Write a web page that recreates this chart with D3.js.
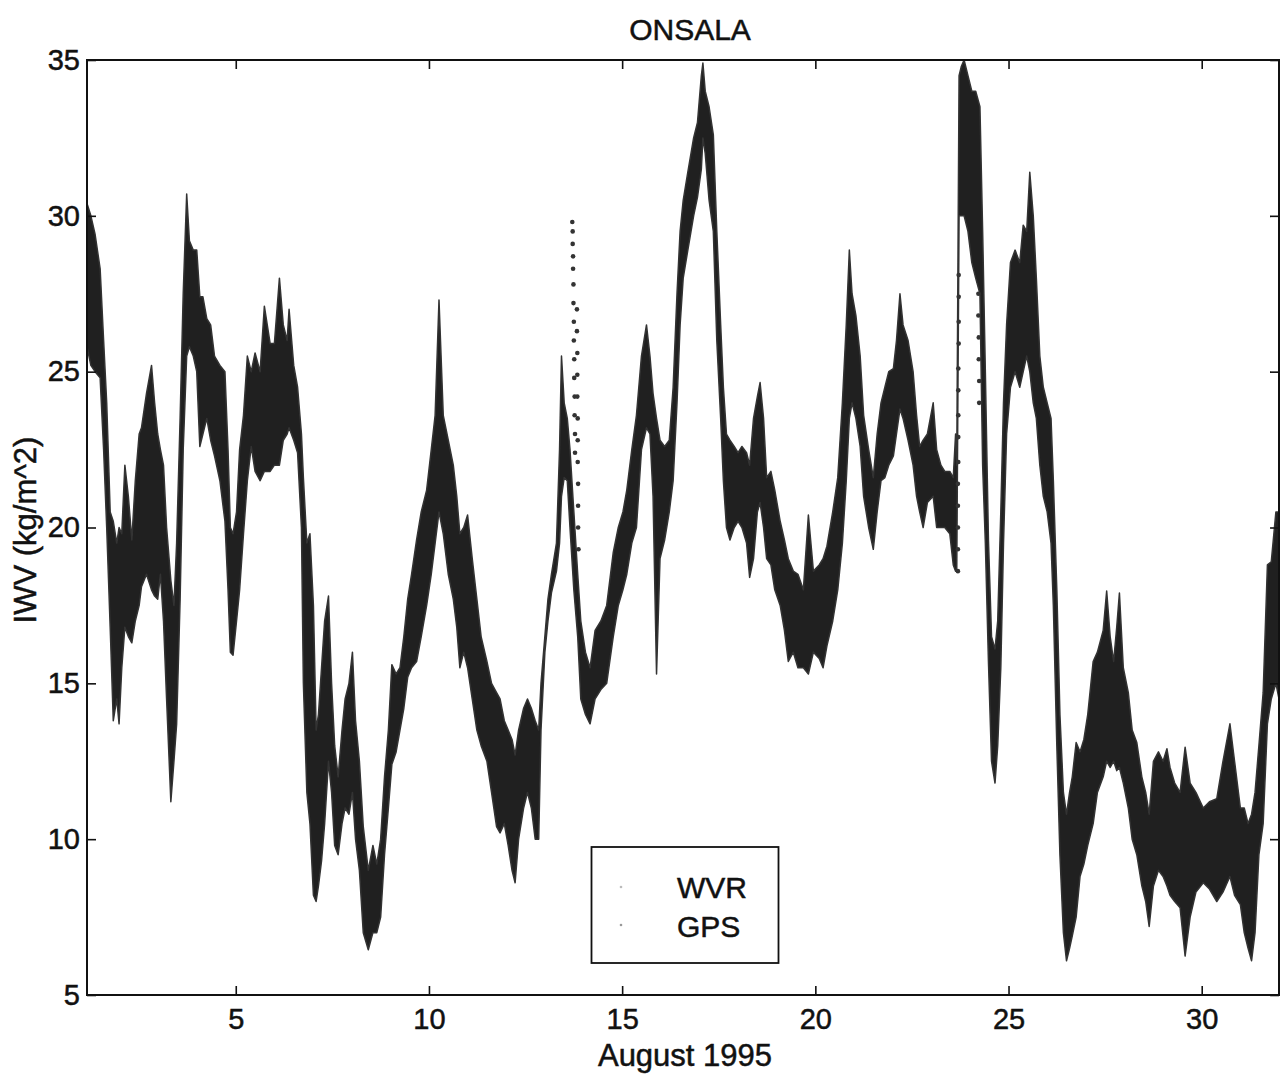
<!DOCTYPE html>
<html>
<head>
<meta charset="utf-8">
<script src="https://cdn.jsdelivr.net/npm/d3@7"></script>
<style>
body { margin: 0; background: #fff; }
text { font-family: "Liberation Sans", Arial, Helvetica, sans-serif; fill: #111; stroke: #111; stroke-width: 0.5px; }
</style>
</head>
<body>
<div id="chart"></div>
<script>
// time in days of August 1995, band = overlapping WVR/GPS samples (upper / lower edge)
var bandT = [1.15,1.25,1.36,1.49,1.58,1.66,1.75,1.83,1.92,1.98,2.05,2.13,2.22,2.31,2.40,2.50,2.56,2.69,2.82,2.90,2.98,3.05,3.13,3.21,3.32,3.40,3.47,3.56,3.64,3.73,3.80,3.90,3.99,4.07,4.15,4.25,4.35,4.45,4.59,4.72,4.80,4.86,4.93,5.02,5.10,5.20,5.30,5.40,5.50,5.63,5.74,5.89,6.00,6.13,6.23,6.33,6.38,6.50,6.60,
  6.70,6.75,6.84,6.92,7.01,7.08,7.14,7.22,7.30,7.40,7.48,7.56,7.65,7.75,7.83,7.93,8.02,8.10,8.20,8.30,8.43,8.55,8.65,8.75,8.85,8.95,9.04,9.15,9.25,9.35,9.45,9.55,9.68,9.80,9.94,10.06,10.16,10.26,10.37,10.50,10.63,10.72,10.80,10.90,11.00,11.12,11.24,11.35,11.50,11.62,11.75,
  11.84,11.95,12.05,12.15,12.23,12.32,12.45,12.55,12.65,12.75,12.84,12.90,13.00,13.08,13.17,13.30,13.38,13.43,13.50,13.58,13.65,13.75,13.85,13.93,14.05,14.17,14.30,14.45,14.60,14.77,14.90,15.02,15.12,15.25,15.37,15.50,15.63,15.72,15.80,15.89,15.98,16.10,16.22,16.32,16.42,16.50,
  16.58,16.70,16.85,16.95,17.05,17.09,17.15,17.25,17.36,17.45,17.55,17.62,17.70,17.79,17.90,18.00,18.10,18.22,18.30,18.40,18.50,18.57,18.66,18.74,18.85,18.95,19.09,19.20,19.30,19.43,19.55,19.69,19.82,19.95,20.10,20.20,20.30,20.45,20.58,20.70,20.80,20.88,20.95,21.05,21.16,21.25,21.38,21.50,21.60,21.70,
  21.80,21.90,22.02,22.10,22.19,22.27,22.40,22.53,22.62,22.70,22.79,22.90,23.05,23.14,23.25,23.35,23.48,23.57,23.63,23.66,23.72,23.78,23.85,23.95,24.05,24.15,24.26,24.33,24.40,24.48,24.56,24.65,24.72,24.80,24.87,24.95,25.05,25.17,25.29,25.38,25.47,25.55,25.64,25.72,25.81,25.90,26.00,26.10,26.16,26.25,26.33,26.42,26.50,26.58,
  26.65,26.75,26.85,26.95,27.05,27.19,27.30,27.45,27.54,27.63,27.72,27.80,27.87,27.97,28.10,28.20,28.32,28.45,28.55,28.64,28.75,28.88,29.00,29.10,29.18,29.30,29.44,29.57,29.70,29.85,30.04,30.20,30.39,30.55,30.73,30.85,31.00,31.10,31.20,31.29,31.38,31.48,31.59,31.70,31.80,31.92,32.00];
var bandHi = [30.4,30.0,29.4,28.3,26.0,24.0,20.5,20.2,19.5,20.0,19.8,22.0,21.0,19.6,21.5,23.0,23.2,24.3,25.2,24.0,23.0,22.5,22.0,20.0,18.3,17.5,19.5,23.5,27.5,30.7,29.2,28.9,28.9,27.4,27.4,26.7,26.5,25.5,25.2,25.0,22.5,20.0,19.8,20.5,22.5,23.6,25.5,25.0,25.6,25.0,27.1,25.9,25.9,28.0,26.5,26.0,27.0,25.2,24.5,
  23.0,21.6,19.5,19.8,17.5,13.5,14.0,15.5,17.0,17.8,15.0,13.0,12.0,13.5,14.5,15.0,16.0,13.8,12.5,10.4,9.0,9.8,9.2,10.0,12.0,13.5,15.6,15.3,15.5,16.5,17.7,18.5,19.6,20.5,21.2,22.5,23.6,27.3,23.6,22.8,22.0,21.0,19.8,20.0,20.4,19.0,17.7,16.5,15.7,15.0,14.7,
  14.5,13.8,13.5,13.2,12.7,13.5,14.2,14.5,14.2,13.8,13.5,15.0,16.5,17.7,18.5,19.5,22.5,25.5,24.0,23.5,22.5,20.5,18.5,17.0,16.0,15.5,16.7,17.0,17.5,19.2,20.0,20.5,21.2,22.5,23.6,25.5,26.5,25.5,24.3,23.5,22.8,22.6,22.8,24.5,27.5,29.5,
  30.5,31.4,32.5,33.0,34.5,34.9,34.0,33.5,32.6,29.5,26.5,24.5,23.0,22.8,22.6,22.4,22.6,22.4,22.0,23.5,24.2,24.65,23.5,21.6,21.8,21.2,20.2,19.6,19.0,18.6,18.5,18.0,20.4,18.6,18.8,19.0,19.4,20.5,21.6,24.0,26.5,28.9,27.5,26.8,25.5,23.6,22.5,21.6,23.0,24.0,
  24.5,25.0,25.1,26.0,27.5,26.5,26.0,25.0,23.6,22.6,22.8,23.0,24.0,22.5,22.0,21.8,21.8,21.6,23.0,22.0,34.5,34.8,35.0,34.5,34.0,34.0,33.5,29.5,25.0,19.6,16.5,16.1,17.0,20.5,24.0,26.5,28.5,28.9,28.5,29.7,29.5,31.4,30.0,28.0,25.5,24.5,24.0,23.5,21.5,18.0,14.0,11.5,10.8,11.5,
  12.0,13.1,12.8,13.2,14.0,15.7,16.0,16.7,17.96,16.5,15.7,16.8,17.9,15.5,14.7,13.5,13.1,12.0,11.5,10.8,12.5,12.8,12.5,12.9,12.3,11.8,11.5,12.95,11.8,11.5,11.0,11.2,11.3,12.5,13.7,12.5,11.0,11.0,10.5,10.8,11.5,13.0,14.7,18.8,18.9,20.5,20.5];
var bandLo = [25.8,25.2,25.0,24.8,22.5,20.0,16.8,13.8,14.5,13.7,15.5,16.8,16.5,16.3,17.0,17.5,18.1,18.5,18.0,17.8,17.7,18.5,17.0,14.5,11.2,12.5,13.7,17.7,22.5,25.5,25.8,25.5,25.0,22.6,23.0,23.5,22.8,22.3,21.5,20.2,18.0,16.0,15.9,17.0,18.0,19.8,21.5,22.6,21.8,21.5,21.8,21.8,22.0,22.0,22.8,23.0,23.2,22.8,22.4,
  20.0,15.0,11.5,10.5,8.2,8.0,8.5,9.3,10.5,12.5,11.5,9.8,9.5,10.5,11.0,10.8,11.5,10.0,9.0,7.0,6.45,7.0,7.0,7.5,9.5,11.0,12.4,12.8,13.5,14.2,15.2,15.5,15.7,16.5,17.5,18.5,19.5,20.5,19.8,18.5,17.7,16.8,15.5,16.0,15.5,14.5,13.5,13.0,12.5,11.5,10.4,
  10.2,10.5,9.8,9.0,8.6,10.0,11.0,11.5,11.0,10.0,10.0,13.5,16.0,17.0,17.9,18.6,19.5,21.0,21.6,21.5,20.0,18.0,16.5,14.5,14.0,13.7,14.5,14.8,15.0,16.5,17.5,18.0,18.5,19.5,20.0,22.5,23.2,23.0,21.0,15.3,19.0,19.6,20.5,21.5,24.0,26.5,
  28.0,28.9,30.0,30.6,31.5,32.5,32.0,30.5,29.5,26.0,23.5,21.5,20.0,19.6,20.0,20.2,20.0,19.5,18.4,19.0,20.5,20.8,20.0,19.0,18.8,18.0,17.5,16.7,15.7,16.0,15.5,15.5,15.3,16.0,15.8,15.5,16.2,17.0,18.0,19.5,21.5,23.5,24.0,23.5,22.6,21.0,20.0,19.3,20.5,21.5,
  21.6,22.0,22.3,23.0,23.8,23.5,22.8,22.0,21.0,20.5,20.0,20.8,21.0,20.0,20.0,20.0,19.8,18.8,18.6,18.6,30.0,30.0,30.0,29.5,28.5,28.0,27.5,22.0,19.5,15.7,12.5,11.8,13.0,15.5,19.5,23.0,24.5,25.0,24.5,25.0,25.5,25.0,24.0,23.5,22.0,21.0,20.5,19.5,17.5,13.0,9.5,7.0,6.1,6.5,
  6.9,7.5,8.8,9.2,9.8,10.5,11.5,12.0,12.5,12.3,12.5,12.2,12.3,11.8,11.0,10.0,9.5,8.5,8.0,7.2,8.5,9.0,8.8,8.5,8.2,8.0,7.8,6.25,7.5,8.3,8.6,8.4,8.0,8.3,8.8,8.2,7.9,7.0,6.5,6.1,7.0,9.5,10.5,13.7,14.5,15.0,14.5];

// isolated GPS samples outside the dense band (steep transitions)
var gpsDotT = [13.71,13.72,13.72,13.73,13.73,13.74,13.74,13.75,13.75,13.76,13.76,13.77,13.77,13.78,13.78,
  13.83,13.83,13.84,13.84,13.84,13.85,13.85,13.85,13.86,13.86,13.86,13.87,
  23.69,23.69,23.69,23.69,23.69,23.70,23.70,23.70,23.70,23.70,23.71,23.71,23.71,23.71,
  24.22,24.22,24.23,24.23,24.24,24.24];
var gpsDotV = [29.8,29.5,29.1,28.7,28.3,27.8,27.2,26.6,26.0,25.4,24.8,24.2,23.6,23.0,22.4,
  27.0,26.3,25.6,24.9,24.2,23.5,22.8,22.1,21.4,20.7,20.0,19.3,
  18.6,19.3,20.0,20.7,21.4,22.1,22.9,23.6,24.4,25.1,25.9,26.6,27.4,28.1,
  27.5,26.8,26.1,25.4,24.7,24.0];

var xTicks = [5, 10, 15, 20, 25, 30];
var yTicks = [5, 10, 15, 20, 25, 30, 35];
var legendNames = ["WVR", "GPS"];

var width = 1287, height = 1081;
var plot = { left: 87, right: 1279, top: 60, bottom: 995 };

var svg = d3.select("#chart").append("svg")
    .attr("width", width)
    .attr("height", height);

var x = d3.scaleLinear().domain([1.15, 32]).range([plot.left, plot.right]);
var y = d3.scaleLinear().domain([5, 35]).range([plot.bottom, plot.top]);

svg.append("clipPath").attr("id", "clip")
    .append("rect")
    .attr("x", plot.left).attr("y", plot.top)
    .attr("width", plot.right - plot.left).attr("height", plot.bottom - plot.top);

var band = bandT.map(function (t, i) { return { t: t, hi: bandHi[i], lo: bandLo[i] }; });

var area = d3.area()
    .x(function (d) { return x(d.t); })
    .y0(function (d) { return y(d.lo); })
    .y1(function (d) { return y(d.hi); });

var g = svg.append("g").attr("clip-path", "url(#clip)");

g.append("path")
    .datum(band)
    .attr("d", area)
    .attr("fill", "#202020")
    .attr("stroke", "#333")
    .attr("stroke-width", 1.5)
    .attr("stroke-linejoin", "round");

g.selectAll(".dot")
    .data(gpsDotT.map(function (t, i) { return { t: t, v: gpsDotV[i] }; }))
    .enter().append("circle")
    .attr("class", "dot")
    .attr("cx", function (d) { return x(d.t); })
    .attr("cy", function (d) { return y(d.v); })
    .attr("r", 2.3)
    .attr("fill", "#333");

// axes, ticks pointing inwards on all four sides
function styleAxis(sel) {
    sel.select(".domain").remove();
    sel.selectAll(".tick line").attr("stroke", "#111").attr("stroke-width", 1.6);
    sel.selectAll(".tick text").attr("font-size", 29).attr("fill", "#111");
}

svg.append("g")
    .attr("transform", "translate(0," + plot.bottom + ")")
    .call(d3.axisBottom(x).tickValues(xTicks).tickSize(-9).tickPadding(13))
    .call(styleAxis);
svg.append("g")
    .attr("transform", "translate(0," + plot.top + ")")
    .call(d3.axisTop(x).tickValues(xTicks).tickSize(-9).tickFormat(""))
    .call(styleAxis);
svg.append("g")
    .attr("transform", "translate(" + plot.left + ",0)")
    .call(d3.axisLeft(y).tickValues(yTicks).tickSize(-9).tickPadding(7))
    .call(styleAxis);
svg.append("g")
    .attr("transform", "translate(" + plot.right + ",0)")
    .call(d3.axisRight(y).tickValues(yTicks).tickSize(-9).tickFormat(""))
    .call(styleAxis);

svg.append("rect")
    .attr("x", plot.left).attr("y", plot.top)
    .attr("width", plot.right - plot.left).attr("height", plot.bottom - plot.top)
    .attr("fill", "none")
    .attr("stroke", "#111")
    .attr("stroke-width", 2);

// titles
svg.append("text")
    .attr("x", 690).attr("y", 40)
    .attr("text-anchor", "middle")
    .attr("font-size", 30)
    .text("ONSALA");

svg.append("text")
    .attr("x", 685).attr("y", 1066)
    .attr("text-anchor", "middle")
    .attr("font-size", 31)
    .text("August 1995");

svg.append("text")
    .attr("transform", "translate(36,530) rotate(-90)")
    .attr("text-anchor", "middle")
    .attr("font-size", 31)
    .text("IWV (kg/m^2)");

// legend
var legend = svg.append("g");
legend.append("rect")
    .attr("x", 591.5).attr("y", 847)
    .attr("width", 187).attr("height", 116)
    .attr("fill", "#fff")
    .attr("stroke", "#111")
    .attr("stroke-width", 1.8);

legendNames.forEach(function (name, i) {
    legend.append("circle")
        .attr("cx", 621).attr("cy", 887 + i * 38)
        .attr("r", 1.3)
        .attr("fill", i === 0 ? "#bbb" : "#999");
    legend.append("text")
        .attr("x", 677).attr("y", 898 + i * 39)
        .attr("font-size", 30)
        .text(name);
});
</script>
</body>
</html>
